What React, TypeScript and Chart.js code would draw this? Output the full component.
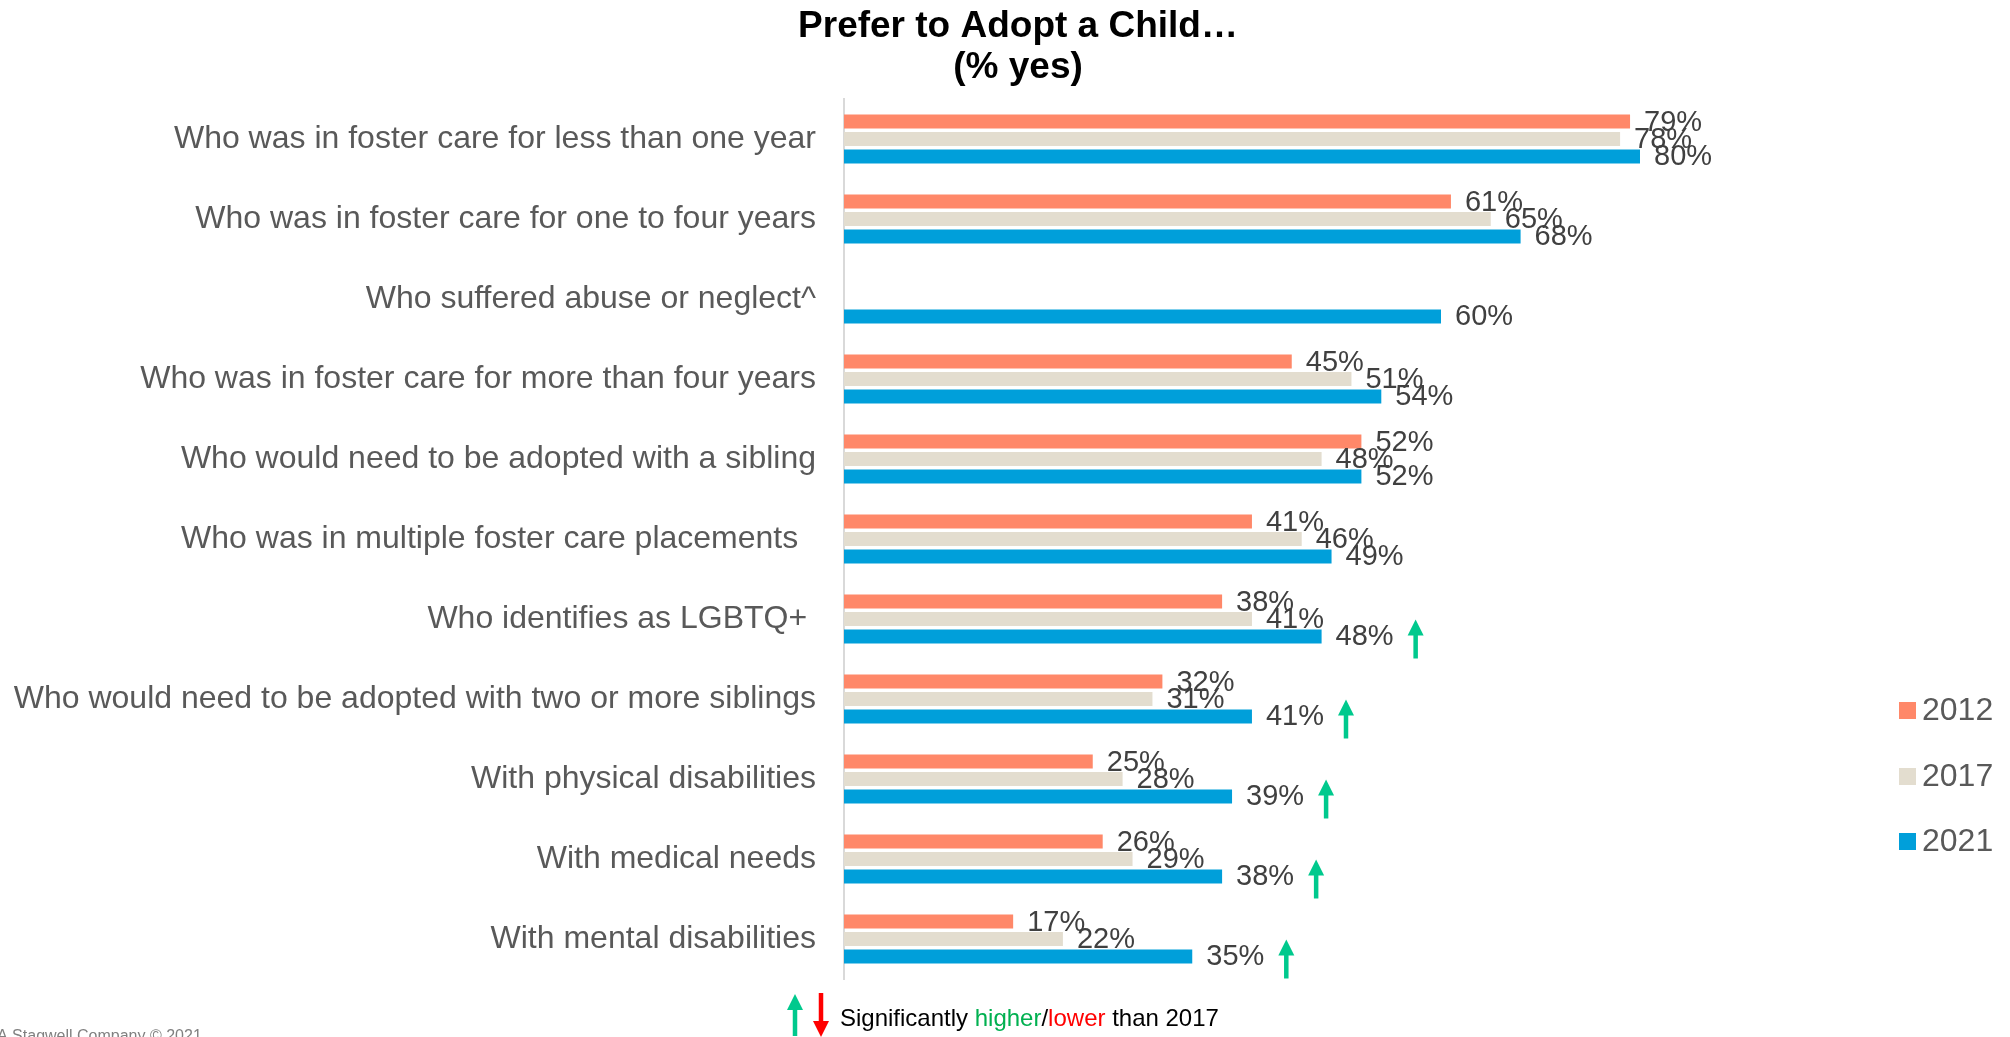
import { useEffect, useRef } from 'react';
import { Chart, registerables } from 'chart.js';

Chart.register(...registerables);

const FONT = '"Liberation Sans", Arial, Helvetica, sans-serif';

const categories = [
  'Who was in foster care for less than one year',
  'Who was in foster care for one to four years',
  'Who suffered abuse or neglect^',
  'Who was in foster care for more than four years',
  'Who would need to be adopted with a sibling',
  'Who was in multiple foster care placements  ',
  'Who identifies as LGBTQ+ ',
  'Who would need to be adopted with two or more siblings',
  'With physical disabilities',
  'With medical needs',
  'With mental disabilities',
];

const seriesLabels = ['2012', '2017', '2021'];
const values2012 = [79, 61, null, 45, 52, 41, 38, 32, 25, 26, 17];
const values2017 = [78, 65, null, 51, 48, 46, 41, 31, 28, 29, 22];
const values2021 = [80, 68, 60, 54, 52, 49, 48, 41, 39, 38, 35];
const seriesColors = ['#FF8869', '#E3DDCF', '#009FDA'];
// significantly higher than 2017 (2021 series)
const higherThan2017 = [false, false, false, false, false, false, true, true, true, true, true];

const titleLines = ['Prefer to Adopt a Child…', '(% yes)'];
const footnoteParts = [
  { text: 'Significantly ', color: '#000000' },
  { text: 'higher', color: '#00B050' },
  { text: '/', color: '#000000' },
  { text: 'lower', color: '#FF0000' },
  { text: ' than 2017', color: '#000000' },
];
const copyright = 'A Stagwell Company © 2021';

const ARROW_GREEN = '#00C98D';
const ARROW_RED = '#FF0000';

function drawArrow(ctx: CanvasRenderingContext2D, cx: number, top: number, bottom: number, up: boolean, color: string) {
  const headH = 16;
  const headW = 16;
  const shaftW = 4.5;
  ctx.save();
  ctx.fillStyle = color;
  if (up) {
    ctx.fillRect(cx - shaftW / 2, top + headH - 1, shaftW, bottom - top - headH + 1);
    ctx.beginPath();
    ctx.moveTo(cx, top);
    ctx.lineTo(cx + headW / 2, top + headH);
    ctx.lineTo(cx - headW / 2, top + headH);
    ctx.closePath();
    ctx.fill();
  } else {
    ctx.fillRect(cx - shaftW / 2, top, shaftW, bottom - top - headH + 1);
    ctx.beginPath();
    ctx.moveTo(cx, bottom);
    ctx.lineTo(cx + headW / 2, bottom - headH);
    ctx.lineTo(cx - headW / 2, bottom - headH);
    ctx.closePath();
    ctx.fill();
  }
  ctx.restore();
}

const decorPlugin = {
  id: 'decor',
  afterDatasetsDraw(chart: any) {
    const ctx: CanvasRenderingContext2D = chart.ctx;
    ctx.save();
    // value labels
    ctx.font = `29px ${FONT}`;
    ctx.textBaseline = 'middle';
    ctx.textAlign = 'left';
    chart.data.datasets.forEach((ds: any, di: number) => {
      const meta = chart.getDatasetMeta(di);
      meta.data.forEach((el: any, i: number) => {
        const v = ds.data[i];
        if (v === null || v === undefined) return;
        const { x, y } = el.getProps(['x', 'y'], true);
        const text = `${v}%`;
        const tx = x + 14;
        ctx.fillStyle = '#404040';
        ctx.fillText(text, tx, y + 1);
        if (di === 2 && higherThan2017[i]) {
          const w = ctx.measureText(text).width;
          drawArrow(ctx, tx + w + 22, y - 17, y + 22, true, ARROW_GREEN);
        }
      });
    });

    // legend
    ctx.font = `32px ${FONT}`;
    ctx.textBaseline = 'middle';
    const legendYs = [710, 776, 841];
    chart.data.datasets.forEach((ds: any, di: number) => {
      const cy = legendYs[di];
      ctx.fillStyle = ds.backgroundColor;
      ctx.fillRect(1899, cy - 8, 17, 17);
      ctx.fillStyle = '#595959';
      ctx.fillText(ds.label, 1922, cy + 1);
    });

    // title
    ctx.font = `bold 37px ${FONT}`;
    ctx.fillStyle = '#000000';
    ctx.textAlign = 'center';
    ctx.textBaseline = 'alphabetic';
    ctx.fillText(titleLines[0], 1018, 37);
    ctx.fillText(titleLines[1], 1018, 78);

    // significance footnote
    drawArrow(ctx, 795, 994, 1036, true, ARROW_GREEN);
    drawArrow(ctx, 821, 993, 1037, false, ARROW_RED);
    ctx.font = `24px ${FONT}`;
    ctx.textAlign = 'left';
    let fx = 840;
    footnoteParts.forEach((p) => {
      ctx.fillStyle = p.color;
      ctx.fillText(p.text, fx, 1026);
      fx += ctx.measureText(p.text).width;
    });

    // copyright
    ctx.font = `16px ${FONT}`;
    ctx.fillStyle = '#808080';
    ctx.fillText(copyright, -3, 1041);
    ctx.restore();
  },
};

export default function App() {
  const ref = useRef<HTMLCanvasElement | null>(null);
  useEffect(() => {
    if (!ref.current) return;
    const chart = new Chart(ref.current, {
      type: 'bar',
      data: {
        labels: categories,
        datasets: [values2012, values2017, values2021].map((d, i) => ({
          label: seriesLabels[i],
          data: d,
          backgroundColor: seriesColors[i],
          borderWidth: 0,
          categoryPercentage: 0.656,
          barPercentage: 0.8,
        })),
      },
      options: {
        indexAxis: 'y',
        responsive: false,
        animation: false,
        devicePixelRatio: 1,
        layout: { padding: { top: 99, bottom: 58, left: 0, right: 171 } },
        plugins: {
          legend: { display: false },
          title: { display: false },
          tooltip: { enabled: false },
        },
        scales: {
          x: { display: false, min: 0, max: 100 },
          y: {
            grid: { display: false, drawTicks: false },
            border: { display: true, color: '#D9D9D9', width: 2 },
            ticks: {
              autoSkip: false,
              color: '#595959',
              padding: 28,
              font: { size: 32, family: FONT },
            },
            afterFit(scale: any) {
              scale.width = 844;
            },
          },
        },
      },
      plugins: [decorPlugin],
    } as any);
    return () => chart.destroy();
  }, []);
  return (
    <canvas
      ref={ref}
      width={2010}
      height={1037}
      style={{ position: 'absolute', left: 0, top: 0, width: 2010, height: 1037, background: '#ffffff' }}
    />
  );
}
